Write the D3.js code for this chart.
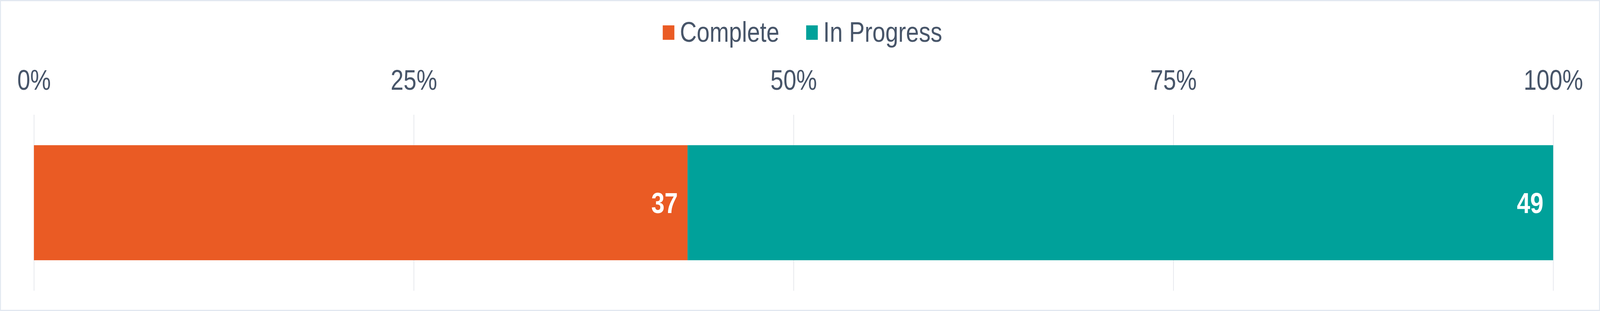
<!DOCTYPE html>
<html>
<head>
<meta charset="utf-8">
<script src="https://cdn.jsdelivr.net/npm/d3@7"></script>
<style>
  html, body { margin: 0; padding: 0; background: #fff; overflow: hidden; }
  svg { display: block; width: 100vw; height: 100vh; font-family: "Liberation Sans", Arial, sans-serif; }
</style>
</head>
<body>
<svg id="chart" viewBox="0 0 4954 797" preserveAspectRatio="none"></svg>
<script>
// data
var categories = ['Status']
var seriesNames = ['Complete', 'In Progress']
var seriesValues = [37, 49]
var seriesColors = ['#EA5B24', '#00A19A']
var tickValues = [0, 0.25, 0.5, 0.75, 1]
var tickLabels = ['0%', '25%', '50%', '75%', '100%']

var W = 4954, H = 797
var margin = {left: 105, right: 145, top: 294, bottom: 52}
var textColor = '#475569'

var svg = d3.select('#chart')

// outer frame
svg.append('rect')
    .attr('x', 1.5).attr('y', 1.5)
    .attr('width', W - 3).attr('height', H - 3)
    .attr('fill', '#fff')
    .attr('stroke', '#e2e8f0')
    .attr('stroke-width', 3)

var x = d3.scaleLinear()
    .domain([0, 1])
    .range([margin.left, W - margin.right])

var y = d3.scaleBand()
    .domain(categories)
    .range([margin.top, H - margin.bottom])
    .paddingInner(0.2)
    .paddingOuter(0.212)

// gridlines
svg.append('g')
    .selectAll('line')
    .data(tickValues)
    .enter()
    .append('line')
    .attr('x1', function(d){ return Math.round(x(d)) + 0.5 })
    .attr('x2', function(d){ return Math.round(x(d)) + 0.5 })
    .attr('y1', margin.top)
    .attr('y2', H - margin.bottom)
    .attr('stroke', '#e2e4ea')
    .attr('stroke-width', 2)

// top axis labels
var axis = d3.axisTop(x)
    .tickValues(tickValues)
    .tickSize(0)
    .tickPadding(0)
    .tickFormat(function(d, i){ return tickLabels[i] })

var axisG = svg.append('g')
    .attr('transform', 'translate(0,230)')
    .call(axis)
axisG.select('.domain').remove()
axisG.selectAll('text')
    .attr('dy', 0)
    .attr('font-size', 72)
    .attr('fill', textColor)
    .attr('font-family', '"Liberation Sans", Arial, sans-serif')

// stacked segments
var total = d3.sum(seriesValues)
var segs = []
var acc = 0
seriesValues.forEach(function(v, i){
    segs.push({name: seriesNames[i], value: v, x0: acc / total, x1: (acc + v) / total, color: seriesColors[i]})
    acc += v
})

var bars = svg.append('g')
bars.selectAll('rect')
    .data(segs)
    .enter()
    .append('rect')
    .attr('x', function(d){ return x(d.x0) })
    .attr('width', function(d){ return x(d.x1) - x(d.x0) })
    .attr('y', y(categories[0]))
    .attr('height', y.bandwidth())
    .attr('fill', function(d){ return d.color })

bars.selectAll('text')
    .data(segs)
    .enter()
    .append('text')
    .attr('x', function(d){ return x(d.x1) - 30 })
    .attr('y', y(categories[0]) + y.bandwidth() / 2)
    .attr('dy', '0.36em')
    .attr('text-anchor', 'end')
    .attr('font-size', 74)
    .attr('font-weight', 'bold')
    .attr('fill', '#fff')
    .text(function(d){ return d.value })

// legend
var legend = svg.append('g')
var items = legend.selectAll('g')
    .data(seriesNames)
    .enter()
    .append('g')

items.append('rect')
    .attr('width', 36).attr('height', 37)
    .attr('y', 65)
    .attr('fill', function(d, i){ return seriesColors[i] })

items.append('text')
    .attr('x', 53)
    .attr('y', 107)
    .attr('font-size', 72)
    .attr('fill', textColor)
    .text(function(d){ return d })

var offset = 0
items.each(function(){
    var g = d3.select(this)
    g.attr('transform', 'translate(' + offset + ',0)')
    var tw = g.select('text').node().getComputedTextLength()
    offset += 53 + tw + 83
})
var legendW = offset - 83
legend.attr('transform', 'translate(' + Math.round(W / 2 - legendW / 2 + 8) + ',0)')
</script>
</body>
</html>
